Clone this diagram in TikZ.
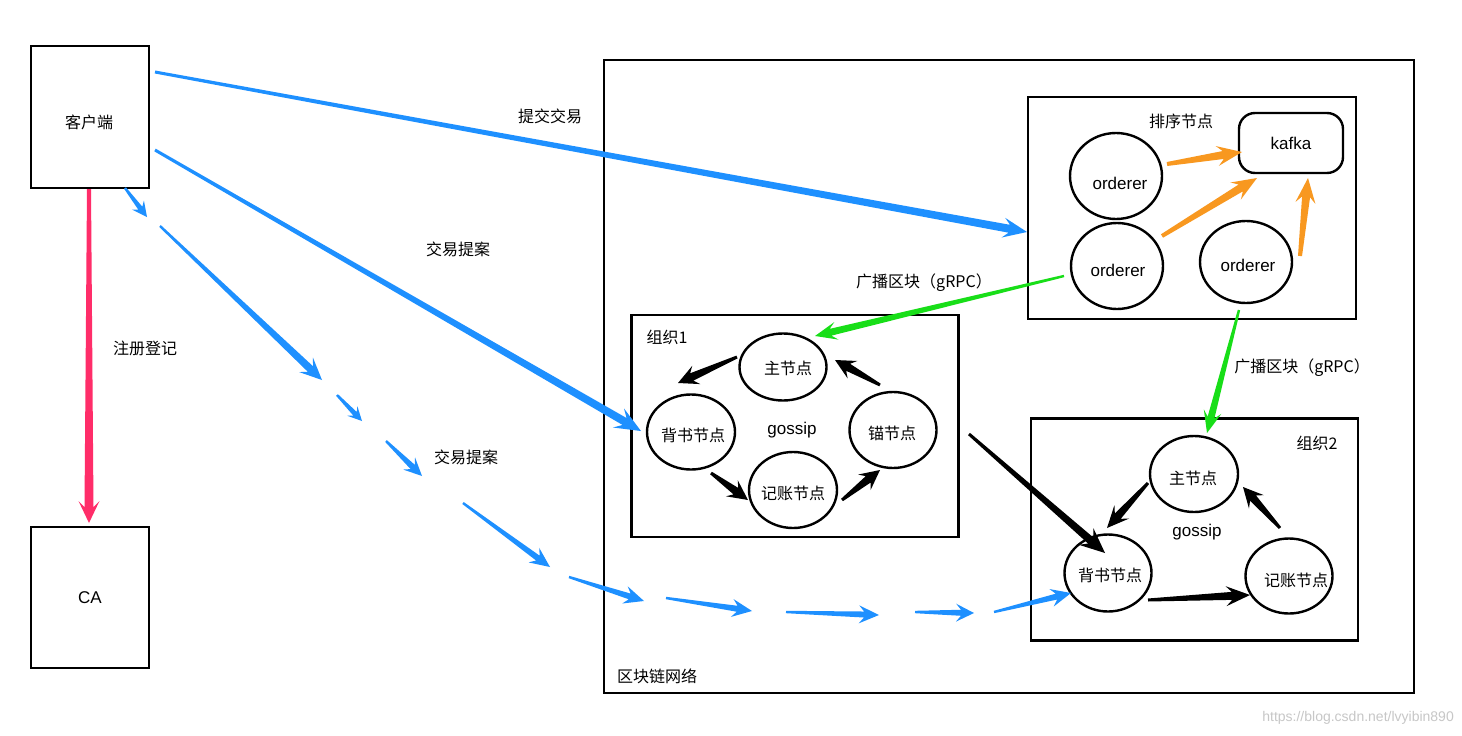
\documentclass[tikz,border=0pt]{standalone}
\usepackage{fontspec}
\setmainfont{Liberation Sans}
\newfontfamily\cjk{Noto Sans CJK SC}
\usetikzlibrary{arrows.meta,shapes.geometric,calc}
\definecolor{cblue}{RGB}{30,144,255}
\definecolor{corange}{RGB}{248,152,32}
\definecolor{cgreen}{RGB}{24,222,24}
\definecolor{cpink}{RGB}{255,45,105}
\begin{document}
\begin{tikzpicture}[x=1pt,y=-1pt,
  box/.style={draw=black,line width=2.4pt,inner sep=0pt},
  circ/.style={ellipse,draw=black,line width=2.4pt,fill=white,inner sep=0pt},
  zh/.style={font=\cjk\fontsize{16}{19}\selectfont,inner sep=0pt},
  en/.style={font=\fontsize{17}{20}\selectfont,inner sep=0pt},
  taper/.style n args={5}{to path={
    ($(\tikztotarget)!#3pt!(\tikztostart)$) coordinate (tpB)
    ($(\tikztotarget)!#4pt!(\tikztostart)$) coordinate (tpN)
    ($(\tikztostart)!#1pt!90:(\tikztotarget)$)
    -- ($(tpN)!#2pt!90:(\tikztotarget)$)
    -- ($(tpB)!#5pt!90:(\tikztotarget)$)
    -- (\tikztotarget)
    -- ($(tpB)!#5pt!-90:(\tikztotarget)$)
    -- ($(tpN)!#2pt!-90:(\tikztotarget)$)
    -- ($(\tikztostart)!#1pt!-90:(\tikztotarget)$) -- cycle}},
  blue arrow/.style={fill=cblue},
  black arrow/.style={fill=black},
  orange arrow/.style={fill=corange},
  green arrow/.style={fill=cgreen},
  pink arrow/.style={fill=cpink}
]
\fill[white] (0,0) rectangle (1462,736);
\useasboundingbox (0,0) rectangle (1462,736);

% ---------- boxes ----------
\node[box,minimum width=118,minimum height=142] (client) at (90,117) {};
\node[zh] (clientT) at (89,122) {客户端};
\node[box,en,minimum width=118,minimum height=141] (ca) at (90,597.5) {CA};
\node[box,minimum width=810,minimum height=633] (net) at (1009,376.5) {};
\node[zh,anchor=west] (netL) at (617,676) {区块链网络};

\node[box,minimum width=328,minimum height=222] (ordbox) at (1192,208) {};
\node[zh] (ordL) at (1181,121) {排序节点};
\node[box,en,rounded corners=16pt,minimum width=104,minimum height=60] (kafka) at (1291,143) {kafka};
\node[circ,minimum width=92,minimum height=86] (or1) at (1116,176) {};
\node[circ,minimum width=92,minimum height=86] (or2) at (1117,266) {};
\node[circ,minimum width=92,minimum height=82] (or3) at (1246,262) {};
\node[en] (or1T) at (1120,183) {orderer};
\node[en] (or2T) at (1118,270) {orderer};
\node[en] (or3T) at (1248,265) {orderer};

\node[box,minimum width=327,minimum height=222] (org1) at (795,426) {};
\node[zh] (org1L) at (667,337) {组织1};
\node[circ,minimum width=87,minimum height=67] (m1) at (783,367) {};
\node[circ,minimum width=88,minimum height=75] (e1) at (691,432) {};
\node[circ,minimum width=88,minimum height=76] (j1) at (793,490) {};
\node[circ,minimum width=87,minimum height=76] (a1) at (893,430) {};
\node[zh] (m1T) at (788,368) {主节点};
\node[zh] (e1T) at (693,435) {背书节点};
\node[zh] (j1T) at (793,493) {记账节点};
\node[zh] (a1T) at (892,433) {锚节点};
\node[en] (g1T) at (792,430) {gossip};

\node[box,minimum width=327,minimum height=222] (org2) at (1194.5,529.5) {};
\node[zh] (org2L) at (1317,443) {组织2};
\node[circ,minimum width=88,minimum height=76] (m2) at (1194,474) {};
\node[circ,minimum width=87,minimum height=77] (e2) at (1108,573) {};
\node[circ,minimum width=87,minimum height=75] (j2) at (1289,576) {};
\node[zh] (m2T) at (1193,478) {主节点};
\node[zh] (e2T) at (1110,575) {背书节点};
\node[zh] (j2T) at (1296,580) {记账节点};
\node[en] (g2T) at (1197,532) {gossip};

% ---------- labels ----------
\node[zh] (lb1) at (550,116) {提交交易};
\node[zh] (lb2) at (458,249) {交易提案};
\node[zh] (lb3) at (466,457) {交易提案};
\node[zh] (lb4) at (145,348) {注册登记};
\node[zh] (lb5) at (924,283) {广播区块（gRPC）};
\node[zh] (lb6) at (1302,368) {广播区块（gRPC）};
\node[font=\fontsize{14}{16}\selectfont,text=black!22,anchor=east,inner sep=0pt] (wm) at (1454,718) {https://blog.csdn.net/lvyibin890};

% ---------- connector end points ----------
\coordinate (b1s) at (155,72);   \coordinate (b1t) at (1027,232);
\coordinate (b2s) at (155,150);  \coordinate (b2t) at (641,431);
\coordinate (ps) at (89,189);    \coordinate (pt) at (89,523);
\coordinate (d1s) at (125,188);  \coordinate (d1t) at (147,217);
\coordinate (d2s) at (160,226);  \coordinate (d2t) at (322,380);
\coordinate (d3s) at (337,395);  \coordinate (d3t) at (362,421);
\coordinate (d4s) at (386,441);  \coordinate (d4t) at (422,476);
\coordinate (d5s) at (463,503);  \coordinate (d5t) at (550,567);
\coordinate (d6s) at (569,577);  \coordinate (d6t) at (644,601);
\coordinate (d7s) at (666,598);  \coordinate (d7t) at (752,611);
\coordinate (d8s) at (786,612);  \coordinate (d8t) at (879,615);
\coordinate (d9s) at (915,612);  \coordinate (d9t) at (974,613);
\coordinate (d10s) at (994,612); \coordinate (d10t) at (1071,593);
\coordinate (k1s) at (737,357);  \coordinate (k1t) at (678,383);
\coordinate (k2s) at (711,473);  \coordinate (k2t) at (748,500);
\coordinate (k3s) at (842,500);  \coordinate (k3t) at (880,470);
\coordinate (k4s) at (880,385);  \coordinate (k4t) at (835,360);
\coordinate (k5s) at (969,434);  \coordinate (k5t) at (1105,553);
\coordinate (k6s) at (1148,483); \coordinate (k6t) at (1107,528);
\coordinate (k7s) at (1148,600); \coordinate (k7t) at (1250,595);
\coordinate (k8s) at (1280,528); \coordinate (k8t) at (1243,487);
\coordinate (o1s) at (1167,164); \coordinate (o1t) at (1242,152);
\coordinate (o2s) at (1162,236); \coordinate (o2t) at (1257,178);
\coordinate (o3s) at (1300,256); \coordinate (o3t) at (1308,178);
\coordinate (g1s) at (1064,276); \coordinate (g1t) at (815,336);
\coordinate (g2s) at (1239,310); \coordinate (g2t) at (1207,433);

% ---------- connectors ----------
\path[blue arrow,taper={1.5}{4}{24}{18}{10}] (b1s) to (b1t);
\path[blue arrow,taper={1.5}{4}{26}{19}{11}] (b2s) to (b2t);
\path[pink arrow,taper={2}{4.5}{22}{16}{10.5}] (ps) to (pt);

\path[blue arrow,taper={1.2}{2.5}{15}{11}{7.5}] (d1s) to (d1t);
\path[blue arrow,taper={1.2}{3.8}{22}{16}{10}] (d2s) to (d2t);
\path[blue arrow,taper={1.2}{2.5}{14}{10}{7}] (d3s) to (d3t);
\path[blue arrow,taper={1.2}{3}{18}{13}{8.5}] (d4s) to (d4t);
\path[blue arrow,taper={1.2}{3}{20}{15}{9}] (d5s) to (d5t);
\path[blue arrow,taper={1.2}{3}{20}{15}{9}] (d6s) to (d6t);
\path[blue arrow,taper={1.2}{3}{20}{15}{9}] (d7s) to (d7t);
\path[blue arrow,taper={1.2}{3}{20}{15}{9}] (d8s) to (d8t);
\path[blue arrow,taper={1.2}{3}{18}{13}{9}] (d9s) to (d9t);
\path[blue arrow,taper={1.2}{3}{20}{15}{9}] (d10s) to (d10t);

\path[black arrow,taper={1.5}{4}{20}{15}{10}] (k1s) to (k1t);
\path[black arrow,taper={1.5}{4}{20}{15}{10}] (k2s) to (k2t);
\path[black arrow,taper={1.5}{4}{20}{15}{10}] (k3s) to (k3t);
\path[black arrow,taper={1.5}{4}{20}{15}{10}] (k4s) to (k4t);
\path[black arrow,taper={1.5}{4}{25}{19}{11}] (k5s) to (k5t);
\path[black arrow,taper={1.5}{4}{22}{16}{10}] (k6s) to (k6t);
\path[black arrow,taper={1.5}{4}{24}{18}{10}] (k7s) to (k7t);
\path[black arrow,taper={1.5}{4}{20}{15}{10}] (k8s) to (k8t);

\path[orange arrow,taper={2}{4}{25}{19}{10}] (o1s) to (o1t);
\path[orange arrow,taper={2}{4}{25}{19}{10}] (o2s) to (o2t);
\path[orange arrow,taper={2}{4}{25}{19}{10}] (o3s) to (o3t);

\path[green arrow,taper={1.2}{3.5}{22}{16}{9}] (g1s) to (g1t);
\path[green arrow,taper={1.2}{3.5}{22}{16}{9}] (g2s) to (g2t);
\end{tikzpicture}
\end{document}
